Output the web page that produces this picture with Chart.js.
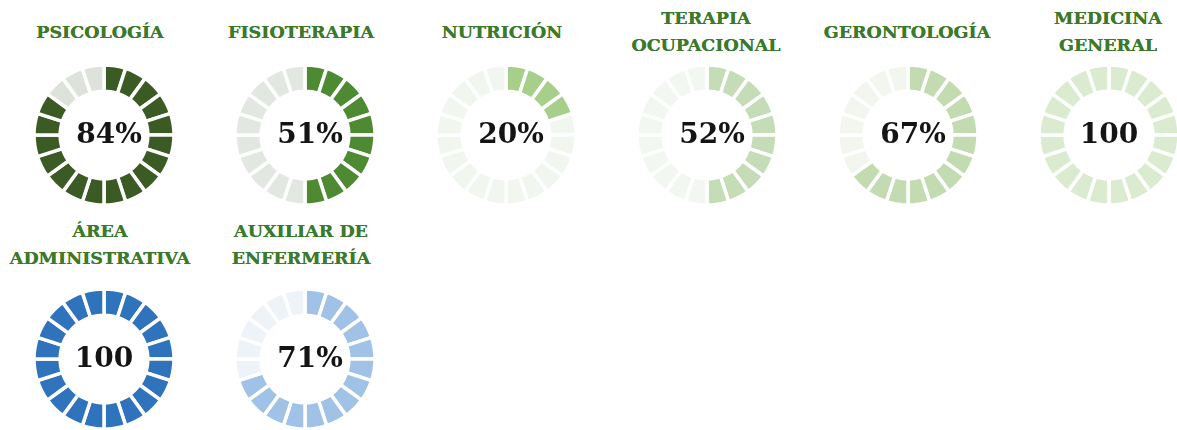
<!DOCTYPE html>
<html>
<head>
<meta charset="utf-8">
<script src="https://cdn.jsdelivr.net/npm/chart.js@4.4.1/dist/chart.umd.min.js"></script>
<style>
  html, body { margin: 0; padding: 0; background: #ffffff; }
  body { width: 1177px; height: 430px; overflow: hidden; position: relative; }
  .title {
    position: absolute; width: 201px; text-align: center;
    font-family: "DejaVu Serif", serif; font-weight: bold; font-size: 17.5px;
    line-height: 27px; color: #3b7a2b; white-space: pre-line;
    transform: translateY(-50%);
    text-shadow: 0 0 0.6px #3b7a2b;
  }
  .gauge { position: absolute; width: 160px; height: 160px; }
  .center {
    position: absolute; width: 160px; text-align: center;
    font-family: "DejaVu Serif", serif; font-weight: bold; font-size: 28px;
    color: #141414; transform: translateY(-50%); line-height: 32px;
  }
  .center.pct { padding-left: 10px; width: 150px; }
</style>
</head>
<body>
<script>
// ---- data ----
const categories = ['PSICOLOGÍA', 'FISIOTERAPIA', 'NUTRICIÓN', 'TERAPIA\nOCUPACIONAL', 'GERONTOLOGÍA', 'MEDICINA\nGENERAL', 'ÁREA\nADMINISTRATIVA', 'AUXILIAR DE\nENFERMERÍA'];
const values = [84, 51, 20, 52, 67, 100, 100, 71];
const valueLabels = ['84%', '51%', '20%', '52%', '67%', '100', '100', '71%'];
const fillColors = ['#3b5b25', '#4e8a32', '#a6d08a', '#c5ddb6', '#c3dbb1', '#dbebd0', '#2f73bc', '#9fc2e6'];
const emptyColors = ['#dde2da', '#e3e7e1', '#f1f6ee', '#f3f7f1', '#f2f6ef', '#dbebd0', '#2f73bc', '#eef3f9'];
const SEGMENTS = 20;

// ---- layout ----
const colW = 201, colX0 = 3.5;
const rowTitleY = [31.5, 244.5];
const rowRingY = [135, 359];
const titleShift = [-4, -4, -4, -1, -1, -1];

categories.forEach((name, i) => {
  const col = i % 6, row = Math.floor(i / 6);
  const left = colX0 + col * colW;
  const cx = left + colW / 2;

  const t = document.createElement('div');
  t.className = 'title';
  t.textContent = name;
  t.style.left = (left + titleShift[col]) + 'px';
  t.style.top = rowTitleY[row] + 'px';
  document.body.appendChild(t);

  const wrap = document.createElement('div');
  wrap.className = 'gauge';
  wrap.style.left = (cx - 80) + 'px';
  wrap.style.top = (rowRingY[row] - 80) + 'px';
  const cv = document.createElement('canvas');
  cv.width = 160; cv.height = 160;
  wrap.appendChild(cv);
  document.body.appendChild(wrap);

  const filled = Math.round(values[i] / (100 / SEGMENTS));
  const segData = [], segColors = [];
  for (let s = 0; s < SEGMENTS; s++) {
    segData.push(100 / SEGMENTS);
    segColors.push(s < filled ? fillColors[i] : emptyColors[i]);
  }

  new Chart(cv, {
    type: 'doughnut',
    data: {
      labels: segData.map((_, s) => String(s + 1)),
      datasets: [{
        data: segData,
        backgroundColor: segColors,
        borderColor: '#ffffff',
        borderWidth: 3.5,
        hoverOffset: 0
      }]
    },
    options: {
      responsive: false,
      animation: false,
      events: [],
      radius: 70,
      cutout: 49,
      rotation: 0,
      layout: { padding: 0 },
      plugins: { legend: { display: false }, tooltip: { enabled: false } }
    }
  });

  const c = document.createElement('div');
  c.className = 'center' + (valueLabels[i].endsWith('%') ? ' pct' : '');
  c.textContent = valueLabels[i];
  c.style.left = (cx - 80) + 'px';
  c.style.top = (rowRingY[row] - 1) + 'px';
  document.body.appendChild(c);
});
</script>
</body>
</html>
